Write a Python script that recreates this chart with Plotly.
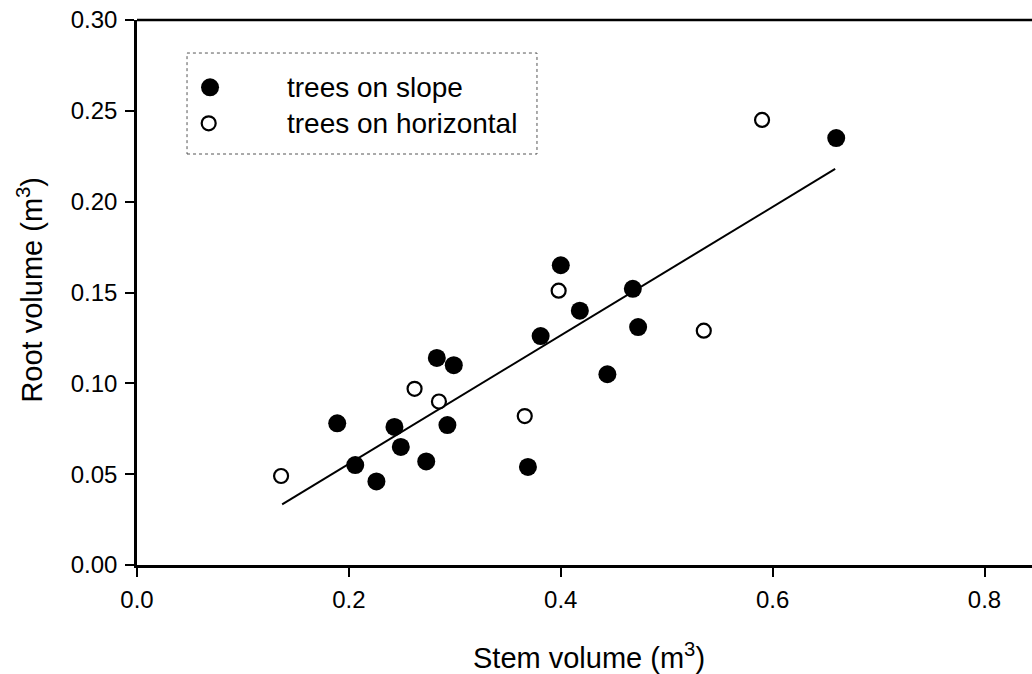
import plotly.graph_objects as go

# Stem and root volumes (m^3)
slope_stem = [0.189, 0.206, 0.226, 0.243, 0.249, 0.273, 0.283, 0.293, 0.299,
              0.369, 0.381, 0.400, 0.418, 0.444, 0.468, 0.473, 0.660]
slope_root = [0.078, 0.055, 0.046, 0.076, 0.065, 0.057, 0.114, 0.077, 0.110,
              0.054, 0.126, 0.165, 0.140, 0.105, 0.152, 0.131, 0.235]

horiz_stem = [0.136, 0.262, 0.285, 0.366, 0.398, 0.535, 0.590]
horiz_root = [0.049, 0.097, 0.090, 0.082, 0.151, 0.129, 0.245]

# Regression line end points
fit_stem = [0.137, 0.659]
fit_root = [0.0334, 0.218]

x_ticks = [0.0, 0.2, 0.4, 0.6, 0.8]
y_ticks = [0.00, 0.05, 0.10, 0.15, 0.20, 0.25, 0.30]

legend_labels = ["trees on slope", "trees on horizontal"]

FONT = "Liberation Sans, Arial, sans-serif"

fig = go.Figure()

fig.add_trace(go.Scatter(
    x=fit_stem, y=fit_root, mode="lines",
    line=dict(color="black", width=2), showlegend=False, hoverinfo="skip"))

fig.add_trace(go.Scatter(
    x=slope_stem, y=slope_root, mode="markers", name=legend_labels[0],
    marker=dict(symbol="circle", size=18, color="black", line=dict(width=0)),
    showlegend=False))

fig.add_trace(go.Scatter(
    x=horiz_stem, y=horiz_root, mode="markers", name=legend_labels[1],
    marker=dict(symbol="circle", size=14, color="white",
                line=dict(color="black", width=2.2)),
    showlegend=False))

axis_common = dict(
    showgrid=False, zeroline=False, showline=True, linecolor="black",
    linewidth=2.5, ticks="outside", ticklen=9, tickwidth=2, tickcolor="black",
    tickfont=dict(family=FONT, size=24, color="black"),
)

fig.update_xaxes(range=[0, 0.8448], tickvals=x_ticks, tickformat=".1f",
                 ticklabelstandoff=2, **axis_common)
fig.update_yaxes(range=[0, 0.30], tickvals=y_ticks, tickformat=".2f",
                 ticklabelstandoff=3, **axis_common)

shapes = [
    # top frame line
    dict(type="line", xref="paper", yref="paper", x0=0, x1=1, y0=1, y1=1,
         line=dict(color="black", width=2.5)),
    # legend frame
    dict(type="rect", xref="paper", yref="paper",
         x0=0.0559, x1=0.4469, y0=0.7541, y1=0.9394,
         line=dict(color="#555555", width=1, dash="dot")),
    # legend symbols
    dict(type="circle", xref="paper", yref="paper",
         xsizemode="pixel", ysizemode="pixel",
         xanchor=0.0816, yanchor=0.8765, x0=-9, x1=9, y0=-9, y1=9,
         fillcolor="black", line=dict(width=0)),
    dict(type="circle", xref="paper", yref="paper",
         xsizemode="pixel", ysizemode="pixel",
         xanchor=0.0801, yanchor=0.8105, x0=-7, x1=7, y0=-7, y1=7,
         fillcolor="white", line=dict(color="black", width=2.2)),
]

annotations = [
    dict(text=legend_labels[0], xref="paper", yref="paper", x=0.1654, y=0.877,
         xanchor="left", yanchor="middle", showarrow=False,
         font=dict(family=FONT, size=28, color="black")),
    dict(text=legend_labels[1], xref="paper", yref="paper", x=0.1654, y=0.811,
         xanchor="left", yanchor="middle", showarrow=False,
         font=dict(family=FONT, size=28, color="black")),
    dict(text="Stem volume (m<sup>3</sup>)", xref="paper", yref="paper",
         x=0.505, y=-0.167, xanchor="center", yanchor="middle", showarrow=False,
         font=dict(family=FONT, size=29, color="black")),
    dict(text="Root volume (m<sup>3</sup>)", xref="paper", yref="paper",
         x=-0.12, y=0.5046, xanchor="center", yanchor="middle", textangle=-90,
         showarrow=False, font=dict(family=FONT, size=29, color="black")),
]

fig.update_layout(
    width=1032, height=674,
    margin=dict(l=137, r=0, t=20, b=109),
    paper_bgcolor="white", plot_bgcolor="white",
    shapes=shapes, annotations=annotations,
    showlegend=False,
)

fig.write_html("out.html")
